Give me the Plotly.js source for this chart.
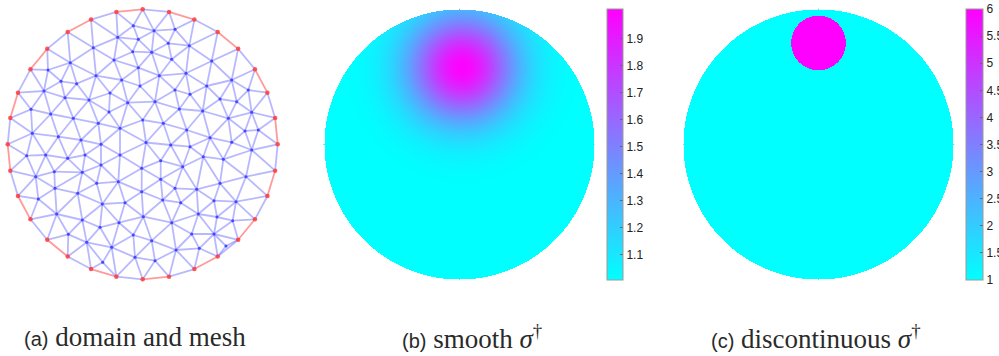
<!DOCTYPE html>
<html><head><meta charset="utf-8">
<script src="https://cdn.plot.ly/plotly-3.0.1.min.js"></script>
<style>html,body{margin:0;padding:0;background:#fff;}#chart{width:999px;height:356px;}</style>
</head><body><div id="chart"></div>
<script>
// ---------- Panel (a): domain and mesh (disk radius 135 units) ----------
const diskRadius = 135;
const boundaryAngles = [0,11.25,22.5,33.75,45,56.25,67.5,78.75,90,101.25,112.5,123.75,135,146.25,157.5,168.75,
  180,191.25,202.5,213.75,225,236.25,247.5,258.75,270,281.25,292.5,303.75,315,326.25,337.5,348.75];
// boundary segments (node i -> i+1) that carry an electrode (drawn red)
const electrodeSegments = [0,2,4,6,8,10,12,14,16,18,20,22,24,26,28,30];
const interiorX = [-9.4,-4.4,-25,-49.4,-10,-72.4,-46.7,-21,-4.4,-81.7,-66,-98.7,-77.7,-53.7,-32.7,-15,-111.7,-92,-69.4,-44.4,-22.7,0,-110.4,-84.4,-61.7,-41.7,3.3,-28.7,-2.7,-94.7,-33.7,
  11.3,32.3,25.6,46.6,9,29,69,16.6,43.3,89,32.3,64,105.6,47.3,12.3,77.3,94,36.6,60,109,85.6,20.6,44,67.3,102.3,115.6,28,89,
  -116,-97,-75,-57.7,-22.7,-1,-41.7,-107,-88.4,-60.4,-46,-24.4,-87.7,-65,-1,-104.4,-40.4,-17.7,-86,-60.4,0.6,-23.7,-74.4,-42.7,-9.4,-56,-31,-7.7,-40,
  47.3,18,40,60.6,80.6,109,18,32.3,54,77.3,103.3,20,38,71.3,93.3,55.6,29,74.3,90,49,71.3,9,33.3,56.6,83.3,12.3];
const interiorY = [118.6,105,107,96.6,92.6,81.6,68.6,64.3,76.6,63,60.6,53.3,46.6,44.3,51.3,41.6,35,30.3,26,21,16,24.3,11,7.6,4.3,0,1.8,84.3,58.3,74.3,32.3,
  113.6,115,101,98.6,92,85,83.3,68.6,71,64.3,54.3,58.3,54.3,50,42.6,45.3,42.6,35.3,33.3,32,26,21,14.3,6.6,13.3,14.3,-0.7,2,
  -11.4,-10.7,-14,-10.7,-10.7,-24,-20.7,-32.4,-27.4,-28,-39,-37.4,-44,-49,-47.4,-54.7,-59.7,-58.4,-69.7,-75.7,-72.4,-78.4,-90,-83,-90.7,-98,-103,-113,-118,
  -2.4,-16.4,-22.4,-12.4,-15,-5.7,-35,-44,-45,-39,-32.4,-55.7,-58.4,-56.4,-57.4,-69.7,-78.4,-72.7,-76.4,-89.7,-89.7,-96.4,-105.7,-104,-101.7,-116.4];

// ---------- Panel (b): smooth conductivity (unit disk) ----------
const smoothBackground = [1.0];
const smoothPeak = [2.0];
const smoothCenter = [0.02, 0.57];
const smoothWidth = [0.28];
const smoothRange = [1.007, 2.011];
const ticksB = [1.1,1.2,1.3,1.4,1.5,1.6,1.7,1.8,1.9];

// ---------- Panel (c): discontinuous conductivity (unit disk) ----------
const discBackground = [1];
const discInclusion = [6];
const inclusionCenter = [0, 0.752];
const inclusionRadius = [0.202];
const ticksC = [1,1.5,2,2.5,3,3.5,4,4.5,5,5.5,6];
const tickTextC = ['1','1.5','2','2.5','3','3.5','4','4.5','5','5.5','6'];

const captions = [
  ['(a)', 'domain and mesh'],
  ['(b)', 'smooth <i>σ</i><sup>†</sup>'],
  ['(c)', 'discontinuous <i>σ</i><sup>†</sup>']
];

// ---------- build mesh ----------
const nb = boundaryAngles.length;
const PX = [], PY = [];
boundaryAngles.forEach(a => { PX.push(diskRadius*Math.cos(a*Math.PI/180)); PY.push(diskRadius*Math.sin(a*Math.PI/180)); });
interiorX.forEach((x,i) => { PX.push(x); PY.push(interiorY[i]); });

function delaunay(px, py, order) {
  const n = px.length, M = 1e5;
  const X = px.concat([-M, M, 0]), Y = py.concat([-M, -M, M]);
  function cc(t) {
    const [a,b,c] = t;
    const ax=X[a],ay=Y[a],bx=X[b],by=Y[b],cx=X[c],cy=Y[c];
    const d = 2*(ax*(by-cy)+bx*(cy-ay)+cx*(ay-by));
    const A=ax*ax+ay*ay,B=bx*bx+by*by,C=cx*cx+cy*cy;
    const ux=(A*(by-cy)+B*(cy-ay)+C*(ay-by))/d;
    const uy=(A*(cx-bx)+B*(ax-cx)+C*(bx-ax))/d;
    return {t, ux, uy, r2:(ax-ux)*(ax-ux)+(ay-uy)*(ay-uy)};
  }
  let tris = [cc([n,n+1,n+2])];
  for (const i of order) {
    const keep = [], cnt = new Map();
    for (const T of tris) {
      const dx = X[i]-T.ux, dy = Y[i]-T.uy;
      if (dx*dx+dy*dy < T.r2*(1-1e-9)) {
        const t = T.t;
        [[t[0],t[1]],[t[1],t[2]],[t[2],t[0]]].forEach(([a,b]) => {
          const k = a<b ? a+','+b : b+','+a;
          cnt.set(k, (cnt.get(k)||0)+1);
        });
      } else keep.push(T);
    }
    for (const [k,c] of cnt) if (c===1) { const [a,b]=k.split(',').map(Number); keep.push(cc([a,b,i])); }
    tris = keep;
  }
  return tris.map(T=>T.t).filter(t => t[0]<n && t[1]<n && t[2]<n);
}
const order = [];
for (let i=nb;i<PX.length;i++) order.push(i);
for (let i=0;i<nb;i++) order.push(i);
const tris = delaunay(PX, PY, order);
const edgeSet = new Set();
tris.forEach(t => [[t[0],t[1]],[t[1],t[2]],[t[2],t[0]]].forEach(([a,b]) => edgeSet.add(a<b? a+','+b : b+','+a)));
const inX=[],inY=[],bX=[],bY=[],rX=[],rY=[];
edgeSet.forEach(k => {
  const [a,b] = k.split(',').map(Number);
  let seg = -1;
  if (a<nb && b<nb) { if (b-a===1) seg=a; else if (a===0 && b===nb-1) seg=nb-1; }
  let tx=inX, ty=inY;
  if (seg>=0) { if (electrodeSegments.includes(seg)) { tx=rX; ty=rY; } else { tx=bX; ty=bY; } }
  tx.push(PX[a],PX[b],null); ty.push(PY[a],PY[b],null);
});

// ---------- fields ----------
const N = 271, gx = [];
for (let i=0;i<N;i++) gx.push(-1 + 2*i/(N-1));
const zB = [], zC = [];
for (let j=0;j<N;j++) {
  const rowB = [], rowC = [];
  for (let i=0;i<N;i++) {
    const x=gx[i], y=gx[j];
    if (x*x+y*y > 1) { rowB.push(null); rowC.push(null); continue; }
    const d2 = (x-smoothCenter[0])**2 + (y-smoothCenter[1])**2;
    rowB.push(smoothBackground[0] + (smoothPeak[0]-smoothBackground[0])*Math.exp(-d2/(2*smoothWidth[0]**2)));
    const e2 = (x-inclusionCenter[0])**2 + (y-inclusionCenter[1])**2;
    rowC.push(e2 <= inclusionRadius[0]**2 ? discInclusion[0] : discBackground[0]);
  }
  zB.push(rowB); zC.push(rowC);
}
const cool = [[0,'rgb(0,255,255)'],[1,'rgb(255,0,255)']];

const W=999, H=356;
const meshHalf = diskRadius*1.05, fieldHalf = 1.05, pxHalf = 135*1.05;
function dom(cx){ return [(cx-pxHalf)/W, (cx+pxHalf)/W]; }
const ydom = [(H-(144.3+pxHalf))/H, (H-(144.3-pxHalf))/H];

const cbCommon = {
  thickness: 16, len: 271, lenmode: 'pixels', xanchor: 'left', yanchor: 'middle',
  y: 1-144.5/H, xpad: 0, ypad: 0, borderwidth: 0,
  outlinecolor: '#9a9a9a', outlinewidth: 1,
  ticks: 'inside', ticklen: 3, tickwidth: 1, tickcolor: '#666',
  tickfont: {family: 'Liberation Sans, Arial, sans-serif', size: 12, color: '#222'}
};

const lineCol = 'rgba(125,125,255,0.55)';
const traces = [
  {type:'scatter', mode:'lines', x:inX, y:inY, xaxis:'x', yaxis:'y', line:{color:lineCol, width:1.8}, hoverinfo:'skip'},
  {type:'scatter', mode:'lines', x:bX, y:bY, xaxis:'x', yaxis:'y', line:{color:lineCol, width:1.8}, hoverinfo:'skip'},
  {type:'scatter', mode:'lines', x:rX, y:rY, xaxis:'x', yaxis:'y', line:{color:'rgba(255,120,120,0.75)', width:1.8}, hoverinfo:'skip'},
  {type:'scatter', mode:'markers', x:PX.slice(nb), y:PY.slice(nb), xaxis:'x', yaxis:'y', marker:{color:'rgb(70,70,250)', size:3}, hoverinfo:'skip'},
  {type:'scatter', mode:'markers', x:PX.slice(0,nb), y:PY.slice(0,nb), xaxis:'x', yaxis:'y', marker:{color:'rgba(255,60,60,0.85)', size:4.5}, cliponaxis:false, hoverinfo:'skip'},
  {type:'heatmap', x:gx, y:gx, z:zB, xaxis:'x2', yaxis:'y2', colorscale:cool, zmin:smoothRange[0], zmax:smoothRange[1], zsmooth:false,
    colorbar:Object.assign({}, cbCommon, {x:606.7/W, tickvals:ticksB, ticktext:ticksB.map(v=>v.toFixed(1))})},
  {type:'heatmap', x:gx, y:gx, z:zC, xaxis:'x3', yaxis:'y3', colorscale:cool, zmin:1, zmax:6, zsmooth:false,
    colorbar:Object.assign({}, cbCommon, {x:965.7/W, thickness:16.5, tickvals:ticksC, ticktext:tickTextC})}
];

const ax = (range, domain, anchor) => ({range, domain, anchor, visible:false, fixedrange:true});
const capX = [22, 400, 709];
const layout = {
  width: W, height: H, margin: {l:0,r:0,t:0,b:0, autoexpand:false},
  paper_bgcolor: '#fff', plot_bgcolor: 'rgba(0,0,0,0)', showlegend: false,
  xaxis: ax([-meshHalf, meshHalf], dom(142.7), 'y'),
  yaxis: ax([-meshHalf, meshHalf], ydom, 'x'),
  xaxis2: ax([-fieldHalf, fieldHalf], dom(459), 'y2'),
  yaxis2: ax([-fieldHalf, fieldHalf], ydom, 'x2'),
  xaxis3: ax([-fieldHalf, fieldHalf], dom(818.7), 'y3'),
  yaxis3: ax([-fieldHalf, fieldHalf], ydom, 'x3'),
  annotations: captions.map((c,i) => ({
    xref:'paper', yref:'paper', x: capX[i]/W, y: 1-337/H, xanchor:'left', yanchor:'middle', showarrow:false,
    text: '<span style="font-family:Liberation Sans, Arial, sans-serif;font-size:20px">' + c[0] + '</span> ' + c[1],
    font: {family:'Liberation Serif, Times New Roman, serif', size: 27, color:'#2a2a2a'}
  }))
};
Plotly.newPlot('chart', traces, layout, {displayModeBar:false, staticPlot:true});
</script></body></html>
